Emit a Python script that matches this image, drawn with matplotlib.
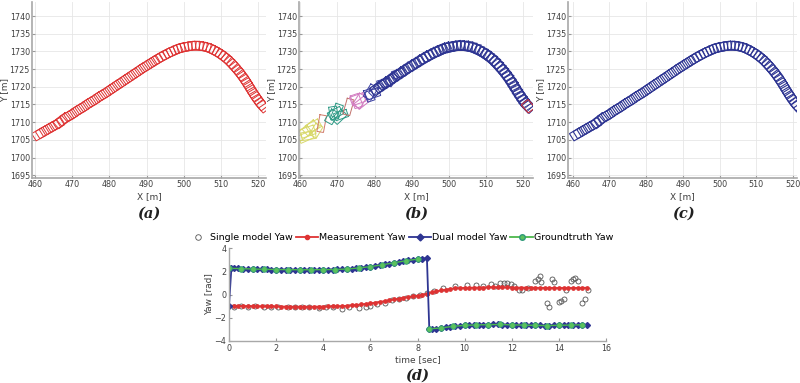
import numpy as np
import matplotlib
matplotlib.use("Agg")
import matplotlib.pyplot as plt
from matplotlib.lines import Line2D

# ---- trajectory (box centres) ----
path_x = [461.0, 462.0, 463.0, 464.0, 465.0, 466.0, 466.8, 467.6, 468.6, 469.6,
          470.6, 471.6, 472.6, 473.6, 474.6, 475.6, 476.6, 477.6, 478.6, 479.6,
          480.6, 481.6, 482.6, 483.6, 484.6, 485.6, 486.6, 487.6, 488.6, 489.6,
          490.6, 491.6, 492.6, 493.5, 494.4, 495.3, 496.2, 497.1, 498.0, 498.9,
          499.8, 500.7, 501.7, 502.7, 503.7, 504.7, 505.7, 506.7, 507.6, 508.5,
          509.4, 510.2, 511.0, 511.8, 512.6, 513.3, 514.0, 514.7, 515.4, 516.0,
          516.6, 517.2, 517.8, 518.4, 519.0, 519.6, 520.2, 520.8, 521.3]
path_y = [1706.5, 1707.1, 1707.7, 1708.3, 1708.9, 1709.5, 1710.0, 1710.8, 1711.4, 1712.0,
          1712.7, 1713.4, 1714.0, 1714.7, 1715.4, 1716.0, 1716.7, 1717.4, 1718.0, 1718.7,
          1719.4, 1720.1, 1720.8, 1721.5, 1722.2, 1722.9, 1723.6, 1724.3, 1725.0, 1725.7,
          1726.3, 1727.0, 1727.6, 1728.2, 1728.7, 1729.2, 1729.7, 1730.1, 1730.5, 1730.9,
          1731.1, 1731.3, 1731.5, 1731.6, 1731.6, 1731.5, 1731.3, 1731.0, 1730.6, 1730.1,
          1729.6, 1729.0, 1728.4, 1727.7, 1726.9, 1726.1, 1725.3, 1724.4, 1723.5, 1722.6,
          1721.7, 1720.7, 1719.7, 1718.7, 1717.7, 1716.8, 1715.9, 1715.1, 1714.5]

# (b) early clustered boxes: centre x, centre y, angle [deg], length, width, colour
early_x = [461.0, 462.0, 462.8, 463.6, 462.3, 464.3, 461.5,
           465.8,
           468.5, 469.5, 470.0, 471.0, 469.0, 470.5,
           473.0,
           475.5, 476.0, 475.2, 476.5,
           479.0, 479.5, 480.5, 478.6, 482.5, 484.5, 486.5]
early_y = [1706.8, 1707.3, 1708.4, 1708.9, 1706.2, 1707.6, 1705.8,
           1709.6,
           1711.5, 1712.5, 1713.2, 1712.0, 1712.6, 1711.5,
           1714.3,
           1716.5, 1716.0, 1716.0, 1715.5,
           1718.5, 1718.0, 1719.0, 1717.6, 1721.0, 1722.0, 1723.8]
early_ang = [35, 20, 40, 30, 10, 60, 25,
             80,
             60, 30, 70, 20, 100, 45,
             75,
             20, 60, 110, 40,
             60, 20, 45, 110, 15, 55, 20]
early_len = [4.0, 4.0, 4.0, 3.8, 3.8, 3.6, 3.8,
             4.8,
             3.8, 3.8, 3.8, 3.6, 3.6, 3.8,
             4.6,
             3.8, 3.8, 3.8, 3.4,
             4.0, 3.8, 3.8, 3.4, 3.4, 3.4, 3.4]
early_wid = [2.5, 2.5, 2.5, 2.4, 2.2, 2.2, 2.2,
             1.8,
             2.3, 2.3, 2.1, 2.1, 2.1, 2.3,
             1.9,
             2.5, 2.3, 2.3, 2.1,
             2.3, 2.3, 2.1, 2.1, 2.2, 2.2, 2.2]
early_col = ["#d8d86a"] * 7 + ["#d07a6a"] + ["#2f9a86"] * 6 + ["#c0706a"] + \
            ["#d27ac0"] * 4 + ["#3a3fa0"] * 7

# ---- yaw over time ----
t = [round(0.2 * i, 1) for i in range(77)]
meas_yaw = [-0.95, -0.97, -0.98, -0.99, -1.0, -1.0, -1.01, -1.02, -1.02, -1.03,
            -1.03, -1.04, -1.04, -1.05, -1.05, -1.05, -1.05, -1.05, -1.05, -1.04,
            -1.04, -1.03, -1.02, -1.01, -1.0, -0.97, -0.94, -0.9, -0.86, -0.81,
            -0.76, -0.7, -0.64, -0.57, -0.5, -0.43, -0.36, -0.29, -0.22, -0.16,
            -0.1, -0.02, 0.08, 0.18, 0.27, 0.35, 0.42, 0.48, 0.52, 0.55,
            0.57, 0.58, 0.59, 0.6, 0.6, 0.61, 0.62, 0.62, 0.62, 0.61,
            0.6, 0.6, 0.59, 0.59, 0.58, 0.58, 0.57, 0.57, 0.57, 0.56,
            0.56, 0.56, 0.56, 0.56, 0.57, 0.57, 0.58]
dual_t = [0.0, 0.1] + [round(0.2 * i, 1) for i in range(1, 43)] + [8.5] + \
         [round(0.2 * i, 1) for i in range(43, 77)]
dual_yaw = [-0.95, 2.25, 2.25, 2.24, 2.22, 2.2, 2.19, 2.18, 2.17, 2.16, 2.15,
            2.15, 2.14, 2.14, 2.13, 2.13, 2.13, 2.13, 2.13, 2.13, 2.13,
            2.14, 2.14, 2.15, 2.16, 2.17, 2.19, 2.22, 2.26, 2.3, 2.35,
            2.4, 2.46, 2.52, 2.59, 2.66, 2.73, 2.8, 2.87, 2.94, 3.0,
            3.05, 3.09, 3.12, -2.95, -2.95, -2.95, -2.88, -2.82, -2.76, -2.72, -2.68,
            -2.65, -2.63, -2.62, -2.61, -2.6, -2.59, -2.58, -2.58, -2.59, -2.6,
            -2.61, -2.62, -2.63, -2.64, -2.65, -2.66, -2.66, -2.67, -2.67, -2.66,
            -2.65, -2.64, -2.63, -2.62, -2.61, -2.6, -2.6]
gt_t = [0.0, 0.5, 1.0, 1.5, 2.0, 2.5, 3.0, 3.5, 4.0, 4.5, 5.0, 5.5, 6.0, 6.5, 7.0,
        7.5, 8.0, 8.5, 9.0, 9.5, 10.0, 10.5, 11.0, 11.5, 12.0, 12.5, 13.0, 13.5,
        14.0, 14.5, 15.0]
gt_yaw = [2.25, 2.23, 2.19, 2.17, 2.15, 2.14, 2.13, 2.13, 2.14, 2.15, 2.19, 2.28,
          2.4, 2.55, 2.73, 2.9, 3.05, -2.95, -2.88, -2.74, -2.65, -2.62, -2.59,
          -2.58, -2.61, -2.63, -2.66, -2.67, -2.65, -2.63, -2.6]
single_t = [0.2, 0.5, 0.8, 1.1, 1.5, 1.8, 2.1, 2.5, 2.8, 3.1, 3.4, 3.8, 4.1, 4.4,
            4.8, 5.1, 5.5, 5.8, 6.0, 6.3, 6.6, 6.9, 7.2, 7.5, 7.8, 8.1, 8.4, 8.7,
            9.1, 9.6, 10.1, 10.5, 10.8, 11.1, 11.3, 11.5, 11.65, 11.8, 11.95, 12.1,
            12.3, 12.45, 12.7, 13.0, 13.1, 13.2, 13.25, 13.5, 13.6, 13.7, 13.8,
            14.0, 14.1, 14.2, 14.3, 14.5, 14.6, 14.7, 14.8, 15.0, 15.1, 15.25]
single_yaw = [-1.1, -1.0, -1.05, -1.0, -1.1, -1.05, -1.1, -1.1, -1.05, -1.1, -1.1,
              -1.2, -1.05, -1.1, -1.25, -1.1, -1.2, -1.1, -0.95, -0.85, -0.7, -0.5,
              -0.4, -0.3, -0.15, -0.05, 0.15, 0.3, 0.6, 0.7, 0.85, 0.8, 0.7, 0.9,
              0.75, 1.0, 1.0, 0.95, 0.9, 0.7, 0.35, 0.4, 0.6, 1.2, 1.3, 1.55, 1.1,
              -0.7, -1.1, 1.35, 1.05, -0.65, -0.6, -0.4, 0.4, 1.2, 1.3, 1.45, 1.15,
              -0.7, -0.4, 0.4]

RED = "#de3333"
BLUE = "#2e3592"
GRID = "#e6e6e6"
TXT = "#404040"
BOX_L, BOX_W = 3.0, 2.4


def draw_box(ax, cx, cy, ang, L, W, color, lw=0.7):
    a = np.radians(ang)
    u = np.array([np.cos(a), np.sin(a)]) * L / 2
    v = np.array([-np.sin(a), np.cos(a)]) * W / 2
    c = np.array([cx, cy])
    pts = np.array([c + u + v, c - u + v, c - u - v, c + u - v, c + u + v])
    ax.plot(pts[:, 0], pts[:, 1], color=color, lw=lw, solid_joinstyle="miter")


def style_map(ax, xlim):
    ax.set_xlim(*xlim)
    ax.set_ylim(1694.2, 1744)
    ax.set_xticks(np.arange(460, 521, 10))
    ax.set_yticks(np.arange(1695, 1741, 5))
    ax.grid(True, color=GRID, lw=0.6)
    ax.set_axisbelow(True)
    for s in ["top", "right"]:
        ax.spines[s].set_visible(False)
    for s in ["left", "bottom"]:
        ax.spines[s].set_color("#a8a8a8")
        ax.spines[s].set_linewidth(1.2)
    ax.tick_params(direction="in", length=2, labelsize=5.8, colors="#999999",
                   labelcolor=TXT, pad=1.5)
    ax.set_xlabel("X [m]", fontsize=6.5, color=TXT, labelpad=2)
    ax.set_ylabel("Y [m]", fontsize=6.5, color=TXT, labelpad=0.5)


px = np.array(path_x)
py = np.array(path_y)
heading = np.degrees(np.arctan2(np.gradient(py), np.gradient(px)))

fig = plt.figure(figsize=(8, 3.83), dpi=100)
H = 383.0
bot = (H - 178) / H
hgt = 176 / H
ax_a = fig.add_axes([32 / 800, bot, 234 / 800, hgt])
ax_b = fig.add_axes([299 / 800, bot, 234 / 800, hgt])
ax_c = fig.add_axes([568 / 800, bot, 229 / 800, hgt])

# (a)
for x, y, h in zip(px, py, heading):
    draw_box(ax_a, x, y, h, BOX_L, BOX_W, RED)
style_map(ax_a, (459.2, 522.1))

# (b)
for x, y, a, L, W, c in zip(early_x, early_y, early_ang, early_len, early_wid, early_col):
    draw_box(ax_b, x, y, a, L, W, c)
for x, y, h in zip(px, py, heading):
    if x >= 480:
        draw_box(ax_b, x, y, h + 5, BOX_L + 0.3, BOX_W + 0.2, BLUE, lw=0.6)
        draw_box(ax_b, x, y, h - 5, BOX_L, BOX_W, BLUE, lw=0.6)
draw_box(ax_b, px[-1], py[-1], heading[-1], BOX_L, BOX_W, RED)
style_map(ax_b, (459.7, 522.6))

# (c)
for x, y, h in zip(px, py, heading):
    draw_box(ax_c, x, y, h, BOX_L, BOX_W, BLUE, lw=0.8)
style_map(ax_c, (458.7, 521.1))

# (d)
ax_d = fig.add_axes([229 / 800, (H - 341) / H, 377 / 800, 93 / H])
gt_t_arr = np.array(gt_t, dtype=float)
gt_arr = np.array(gt_yaw, dtype=float)
jump = np.where(np.abs(np.diff(gt_arr)) > np.pi)[0] + 1
gt_t_plot = np.insert(gt_t_arr, jump, np.nan)
gt_plot = np.insert(gt_arr, jump, np.nan)

ax_d.plot(single_t, single_yaw, ls="none", marker="o", ms=3.6, mfc="none",
          mec="#555555", mew=0.6)
ax_d.plot(t, meas_yaw, color=RED, lw=1.3, marker="o", ms=2.4, mfc=RED, mec=RED)
ax_d.plot(dual_t, dual_yaw, color=BLUE, lw=1.3, marker="D", ms=3.0, mfc=BLUE, mec=BLUE)
ax_d.plot(gt_t_plot, gt_plot, color="#4cb84c", lw=1.0, marker="o", ms=4.0,
          mfc="#5cc25c", mec="#2f9a7a", mew=0.6)
ax_d.set_xlim(0, 16)
ax_d.set_ylim(-4, 4)
ax_d.set_xticks(np.arange(0, 17, 2))
ax_d.set_yticks([-4, -2, 0, 2, 4])
for s in ["top", "right"]:
    ax_d.spines[s].set_visible(False)
for s in ["left", "bottom"]:
    ax_d.spines[s].set_color("#a8a8a8")
    ax_d.spines[s].set_linewidth(1.0)
ax_d.tick_params(direction="in", length=2, labelsize=5.8, colors="#999999",
                 labelcolor=TXT, pad=2)
ax_d.set_xlabel("time [sec]", fontsize=6.5, color=TXT, labelpad=2)
ax_d.set_ylabel("Yaw [rad]", fontsize=6.5, color=TXT, labelpad=1)

handles = [
    Line2D([], [], ls="none", marker="o", ms=4, mfc="none", mec="#555555", mew=0.6),
    Line2D([], [], color=RED, lw=1.3, marker="o", ms=3, mfc=RED, mec=RED),
    Line2D([], [], color=BLUE, lw=1.3, marker="D", ms=3.5, mfc=BLUE, mec=BLUE),
    Line2D([], [], color="#4cb84c", lw=1.3, marker="o", ms=4, mfc="#5cc25c", mec="#2f9a7a"),
]
labels = ["Single model Yaw", "Measurement Yaw", "Dual model Yaw", "Groundtruth Yaw"]
fig.legend(handles, labels, loc="center", bbox_to_anchor=(400 / 800, (H - 238) / H),
           ncol=4, frameon=False, fontsize=6.8, handlelength=2.4, handletextpad=0.1,
           columnspacing=0.3, borderaxespad=0)

# panel captions
cap = dict(ha="center", va="center", fontsize=10.5, family="DejaVu Serif",
           style="italic", weight="bold", color="#202020")
fig.text(149 / 800, (H - 214) / H, "(a)", **cap)
fig.text(416 / 800, (H - 214) / H, "(b)", **cap)
fig.text(683 / 800, (H - 214) / H, "(c)", **cap)
fig.text(417 / 800, (H - 376) / H, "(d)", **cap)

fig.savefig("out.png", dpi=100)
